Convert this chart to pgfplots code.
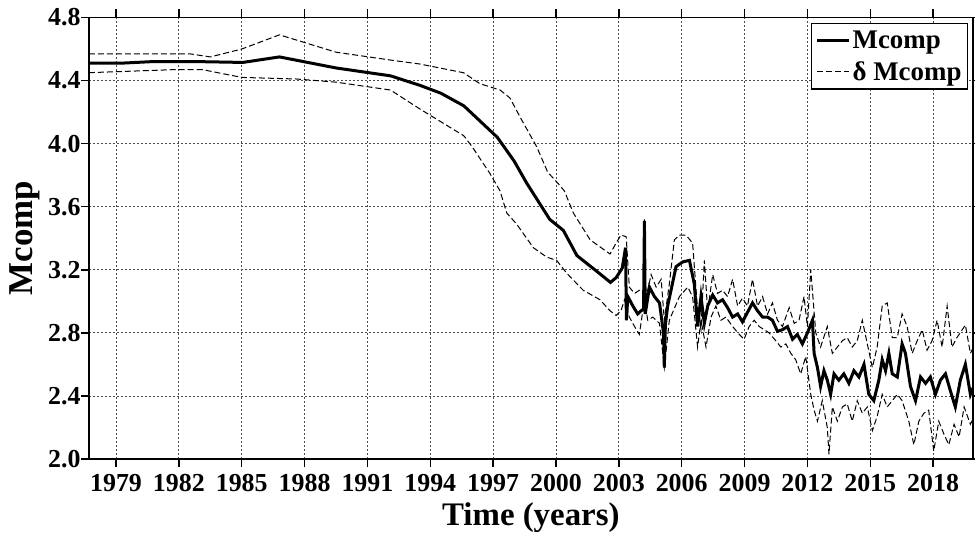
\documentclass[border=0pt]{standalone}
\usepackage{fontspec}
\setmainfont{Liberation Serif}
\usepackage{pgfplots}
\pgfplotsset{compat=1.18}
\begin{document}
\begin{tikzpicture}
\begin{axis}[
  scale only axis, width=883.7bp, height=441.5bp,
  anchor=south west, at={(89bp,78bp)},
  xmin=1977.71, xmax=2019.89, ymin=2.0, ymax=4.8,
  xtick={1979,1982,...,2018}, ytick={2.0,2.4,...,4.8},
  yticklabel style={/pgf/number format/fixed, /pgf/number format/fixed zerofill, /pgf/number format/precision=1, xshift=3bp},
  xticklabel style={/pgf/number format/1000 sep={}, yshift=-4bp},
  /pgf/number format/assume math mode=true,
  tick label style={font=\fontsize{26}{26}\selectfont\bfseries},
  tick align=outside, major tick length=8bp,
  tick style={line width=1.5bp, black},
  axis line style={line width=1.6bp},
  grid=major,
  major grid style={dash pattern=on 2bp off 2bp, line width=0.8bp, black!70},
  xlabel={\fontsize{33}{33}\selectfont\bfseries Time (years)},
  ylabel={\fontsize{35}{35}\selectfont\bfseries Mcomp},
  xlabel style={at={(axis description cs:0.5,-0.151)}, anchor=base},
  ylabel style={at={(axis description cs:-0.0634,0.5)}, anchor=base},
  legend style={at={(0.995,0.988)}, anchor=north east, draw=black, line width=1.6bp,
    font=\fontsize{27}{27}\selectfont\bfseries, row sep=8bp, inner xsep=4bp, inner ysep=5bp},
  legend cell align=left,
  legend image code/.code={\draw[#1] (0bp,0bp) -- (32bp,0bp);},
]
\addplot[black, line width=3bp] coordinates {
(1977.7,4.51)(1979.2,4.51)(1980.7,4.52)(1983.0,4.52)(1985.05,4.515)(1986.8,4.55)(1989.5,4.48)(1992.1,4.43)(1993.5,4.37)(1994.5,4.32)(1995.6,4.24)(1997.2,4.04)(1998.0,3.89)(1998.6,3.75)(1999.7,3.52)(2000.35,3.45)(2001.0,3.29)(2001.95,3.19)(2002.6,3.12)(2002.87,3.15)(2003.16,3.21)(2003.32,3.34)(2003.36,2.88)(2003.43,3.03)(2003.67,2.97)(2003.9,2.92)(2004.06,2.94)(2004.18,2.95)(2004.22,3.51)(2004.26,2.92)(2004.46,3.09)(2004.7,3.03)(2004.94,2.99)(2005.13,2.80)(2005.17,2.58)(2005.22,2.85)(2005.33,2.97)(2005.73,3.22)(2006.05,3.25)(2006.37,3.26)(2006.6,3.11)(2006.76,2.84)(2006.92,3.03)(2007.08,2.86)(2007.24,2.97)(2007.48,3.04)(2007.71,2.99)(2007.95,3.01)(2008.19,2.96)(2008.43,2.90)(2008.67,2.92)(2008.9,2.87)(2009.14,2.93)(2009.38,2.99)(2009.62,2.94)(2009.86,2.90)(2010.1,2.90)(2010.33,2.88)(2010.57,2.81)(2010.81,2.82)(2011.05,2.84)(2011.29,2.76)(2011.52,2.79)(2011.76,2.73)(2012.0,2.80)(2012.24,2.88)(2012.32,2.67)(2012.48,2.58)(2012.63,2.46)(2012.79,2.56)(2012.95,2.50)(2013.11,2.41)(2013.27,2.54)(2013.5,2.50)(2013.74,2.54)(2013.98,2.48)(2014.22,2.56)(2014.46,2.52)(2014.7,2.60)(2014.93,2.41)(2015.17,2.37)(2015.41,2.50)(2015.57,2.63)(2015.73,2.56)(2015.89,2.67)(2016.05,2.54)(2016.29,2.52)(2016.52,2.73)(2016.68,2.67)(2016.92,2.46)(2017.16,2.37)(2017.4,2.52)(2017.64,2.48)(2017.87,2.52)(2018.11,2.41)(2018.35,2.50)(2018.59,2.54)(2018.83,2.43)(2019.06,2.33)(2019.3,2.50)(2019.54,2.60)(2019.78,2.41)(2019.89,2.45)
};
\addlegendentry{Mcomp}
\addplot[black, line width=1bp, dash pattern=on 6bp off 3bp] coordinates {
(1977.7,4.57)(1982.5,4.57)(1983.5,4.55)(1985.0,4.60)(1986.8,4.69)(1989.5,4.58)(1992.1,4.53)(1993.5,4.505)(1995.58,4.45)(1996.37,4.38)(1997.33,4.34)(1997.8,4.29)(1998.28,4.17)(1999.08,3.98)(1999.6,3.82)(2000.15,3.74)(2000.4,3.70)(2000.83,3.56)(2001.63,3.39)(2002.58,3.30)(2002.87,3.37)(2003.1,3.42)(2003.35,3.41)(2003.5,3.09)(2003.75,3.05)(2003.98,3.07)(2004.18,3.06)(2004.22,3.52)(2004.27,3.07)(2004.38,3.07)(2004.54,3.17)(2004.78,3.09)(2005.02,3.14)(2005.17,2.88)(2005.41,3.11)(2005.65,3.39)(2005.89,3.42)(2006.2,3.42)(2006.52,3.37)(2006.76,2.94)(2006.92,2.82)(2007.08,3.26)(2007.24,2.94)(2007.48,3.17)(2007.71,3.05)(2007.95,3.07)(2008.19,3.03)(2008.43,3.14)(2008.67,2.97)(2008.9,3.02)(2009.14,2.97)(2009.38,3.14)(2009.62,2.97)(2009.86,3.03)(2010.1,2.92)(2010.33,2.99)(2010.57,2.88)(2010.81,2.84)(2011.13,2.96)(2011.37,2.86)(2011.6,2.88)(2011.84,3.03)(2012.0,2.84)(2012.16,3.20)(2012.4,2.80)(2012.63,2.71)(2012.95,2.84)(2013.19,2.67)(2013.43,2.71)(2013.67,2.75)(2013.9,2.77)(2014.14,2.71)(2014.38,2.75)(2014.62,2.88)(2014.86,2.73)(2015.1,2.58)(2015.33,2.71)(2015.57,2.97)(2015.81,2.99)(2016.05,2.77)(2016.29,2.77)(2016.52,2.92)(2016.76,2.84)(2017.0,2.67)(2017.24,2.75)(2017.48,2.82)(2017.71,2.69)(2017.95,2.75)(2018.19,2.88)(2018.43,2.71)(2018.67,2.97)(2018.9,2.71)(2019.14,2.77)(2019.54,2.85)(2019.78,2.67)(2019.89,2.70)
};
\addlegendentry{δ Mcomp}
\addplot[black, line width=1bp, dash pattern=on 6bp off 3bp, forget plot] coordinates {
(1977.7,4.45)(1981.9,4.47)(1983.1,4.47)(1985.0,4.42)(1987.6,4.41)(1989.5,4.39)(1992.1,4.34)(1993.5,4.22)(1995.6,4.05)(1996.0,3.98)(1996.85,3.81)(1997.33,3.70)(1997.65,3.56)(1998.12,3.49)(1998.92,3.34)(1999.56,3.28)(2000.03,3.26)(2000.5,3.18)(2001.3,3.07)(2002.1,3.01)(2002.58,2.94)(2002.87,2.91)(2003.1,2.94)(2003.27,3.01)(2003.5,2.90)(2003.75,2.84)(2003.98,2.79)(2004.22,3.01)(2004.38,2.88)(2004.62,2.90)(2004.94,2.86)(2005.17,2.58)(2005.41,2.88)(2005.89,3.03)(2006.29,3.09)(2006.52,3.03)(2006.76,2.71)(2006.92,2.88)(2007.16,2.71)(2007.4,2.90)(2007.63,2.97)(2007.87,2.88)(2008.11,2.90)(2008.43,2.84)(2008.75,2.79)(2008.98,2.76)(2009.22,2.84)(2009.46,2.88)(2009.7,2.84)(2009.94,2.82)(2010.17,2.80)(2010.49,2.75)(2010.73,2.71)(2010.97,2.73)(2011.21,2.67)(2011.44,2.63)(2011.68,2.54)(2011.92,2.65)(2012.16,2.41)(2012.32,2.31)(2012.48,2.24)(2012.71,2.37)(2012.95,2.20)(2013.03,2.03)(2013.19,2.33)(2013.43,2.24)(2013.67,2.33)(2013.9,2.35)(2014.14,2.24)(2014.38,2.37)(2014.62,2.29)(2014.86,2.33)(2015.1,2.18)(2015.33,2.27)(2015.57,2.41)(2015.81,2.33)(2016.05,2.37)(2016.29,2.41)(2016.52,2.37)(2016.84,2.24)(2017.08,2.09)(2017.32,2.24)(2017.56,2.29)(2017.79,2.31)(2018.03,2.05)(2018.27,2.24)(2018.51,2.16)(2018.75,2.09)(2019.0,2.22)(2019.24,2.14)(2019.48,2.33)(2019.78,2.22)(2019.89,2.25)
};
\end{axis}
\pgfresetboundingbox
\useasboundingbox (0,0) rectangle (975bp,537bp);
\end{tikzpicture}
\end{document}
